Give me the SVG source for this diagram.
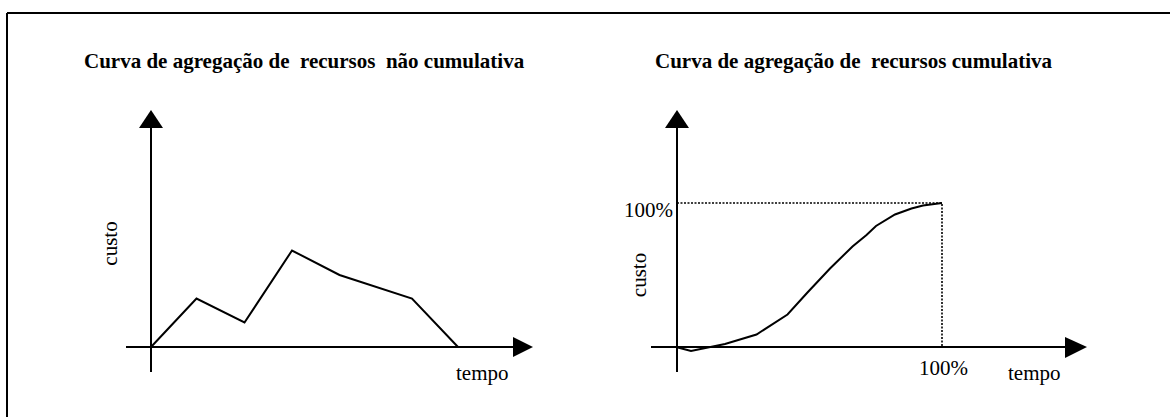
<svg xmlns="http://www.w3.org/2000/svg" width="1170" height="417" viewBox="0 0 1170 417">
<style>
  text { font-family: "Liberation Serif", "Times New Roman", serif; fill: #000; white-space: pre; }
  .title { font-size: 21px; font-weight: bold; }
  .lbl { font-size: 21px; }
  .ax { stroke: #000; stroke-width: 2; fill: none; }
  .curve { stroke: #000; stroke-width: 2; fill: none; stroke-linejoin: miter; }
  .dot { stroke: #000; stroke-width: 1.6; fill: none; stroke-dasharray: 2 1.5; }
  .head { fill: #000; stroke: none; }
</style>
<rect width="1170" height="417" fill="#fff"/>
<g id="frame">
  <path class="ax" d="M7 13 H1170 M7 13 V417"/>
</g>
<g id="chart-left">
  <text class="title" x="84" y="68" xml:space="preserve">Curva de agregação de  recursos  não cumulativa</text>
  <g id="left-axes">
    <path class="ax" d="M151 372 V127 M126 347 H514"/>
    <polygon class="head" points="151,110 139,128 163,128"/>
    <polygon class="head" points="533,347 513,337 513,357"/>
  </g>
  <text class="lbl" transform="translate(117,243.5) rotate(-90)" text-anchor="middle">custo</text>
  <text class="lbl" x="456" y="380">tempo</text>
  <polyline id="left-curve" class="curve" points="151,347 196.5,298.5 244.5,322.5 292,250.5 339.5,275 412,298.5 458,347"/>
</g>
<g id="chart-right">
  <text class="title" x="655" y="68" xml:space="preserve">Curva de agregação de  recursos cumulativa</text>
  <g id="right-axes">
    <path class="ax" d="M677 372 V127 M651 347 H1066"/>
    <polygon class="head" points="677,110 665,128 689,128"/>
    <polygon class="head" points="1087,347 1065,337 1065,358"/>
  </g>
  <path class="dot" d="M677 203 H942 V347"/>
  <text class="lbl" transform="translate(646,275) rotate(-90)" text-anchor="middle">custo</text>
  <text class="lbl" x="624" y="217">100%</text>
  <text class="lbl" x="919" y="375">100%</text>
  <text class="lbl" x="1008" y="380">tempo</text>
  <polyline id="right-curve" class="curve" points="676,347 691,351 725,344 756.5,334.5 787.5,314.5 807,293 830,268.5 852.5,246.5 866.5,235 876,226 895,214.5 911.5,208.5 923,205.5 942,203"/>
</g>
</svg>
